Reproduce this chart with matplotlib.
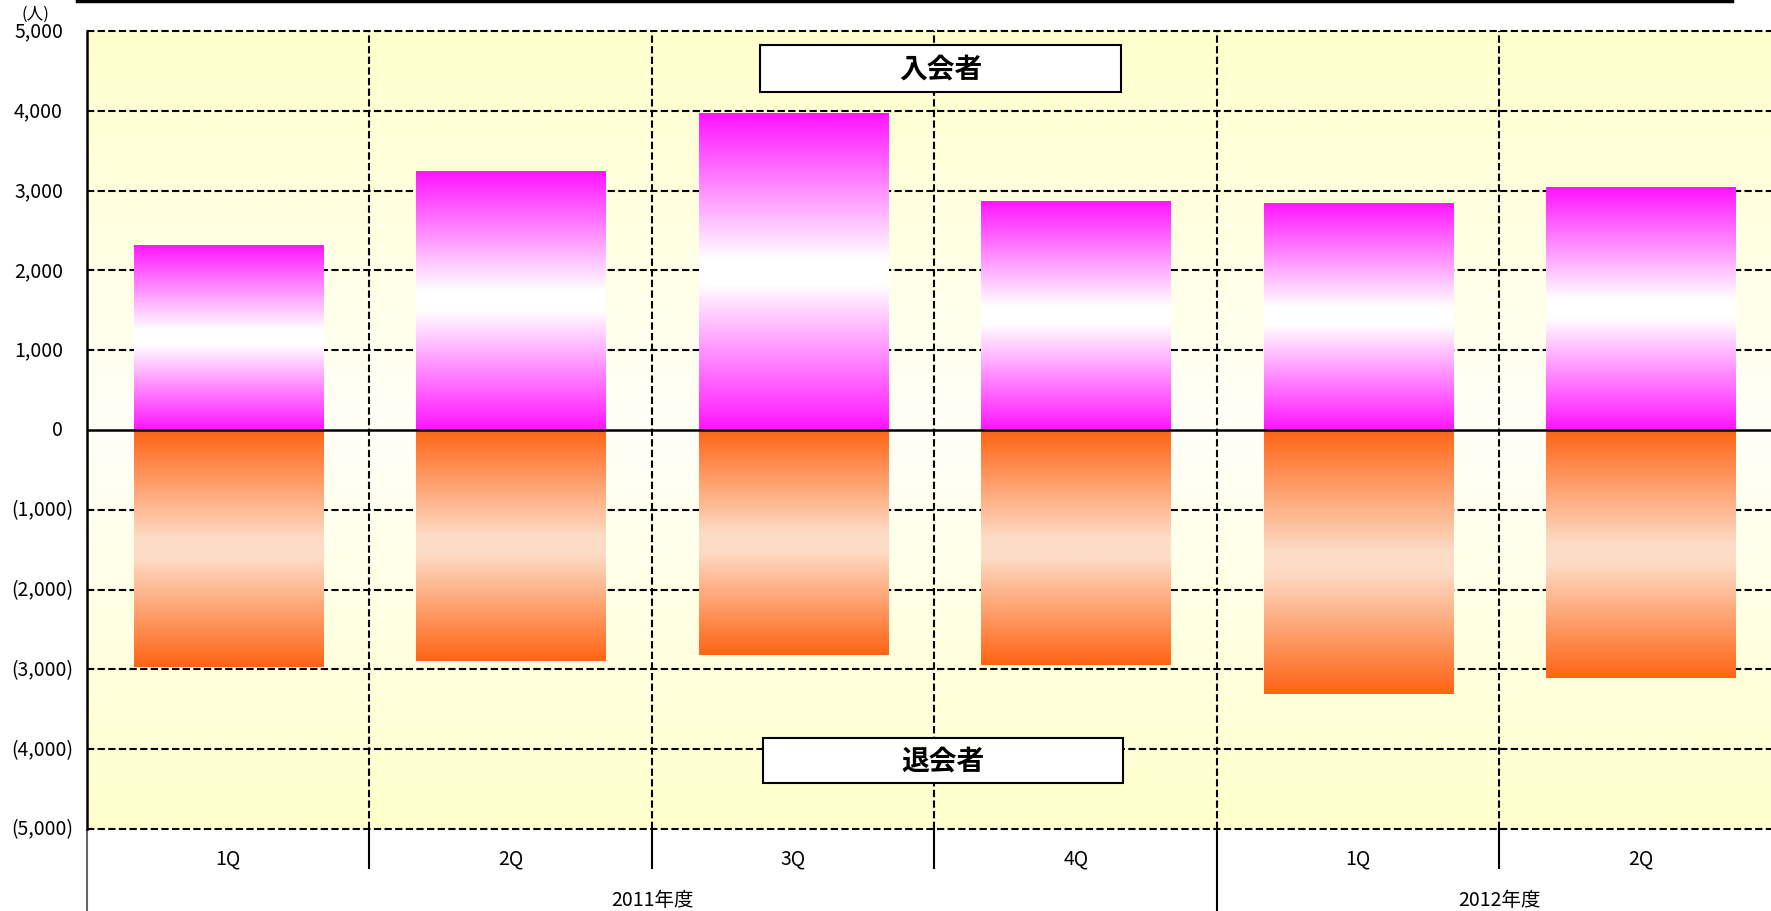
import numpy as np
import matplotlib
matplotlib.use("Agg")
import matplotlib.pyplot as plt
from matplotlib.colors import LinearSegmentedColormap
from matplotlib.patches import Rectangle
from matplotlib.lines import Line2D

plt.rcParams['font.family'] = ['Noto Sans CJK JP', 'DejaVu Sans']

# data
quarters = ['1Q', '2Q', '3Q', '4Q', '1Q', '2Q']
years = ['2011年度', '2012年度']
year_first = [0, 4]          # first quarter index of each fiscal year
year_last = [3, 5]
joiners = [2320, 3245, 3970, 2870, 2845, 3045]     # 入会者
leavers = [-2965, -2895, -2820, -2940, -3310, -3110]  # 退会者
yticks = [-5000, -4000, -3000, -2000, -1000, 0, 1000, 2000, 3000, 4000, 5000]

W, H = 1771, 912
fig = plt.figure(figsize=(W / 100, H / 100), dpi=100)
ax = fig.add_axes([87 / W, (H - 830) / H, 1695 / W, 798 / H])

x = np.arange(len(quarters))
xlo, xhi = -0.5, len(quarters) - 0.5
fs = 14

# background: yellow at the edges, almost white at zero
bg_cmap = LinearSegmentedColormap.from_list('bg', ['#fffff8', '#ffffcc'])
bg = np.abs(np.linspace(-1, 1, 256))[:, None]
ax.imshow(bg, extent=[xlo, xhi, yticks[0], yticks[-1]], cmap=bg_cmap,
          aspect='auto', origin='lower', zorder=0, interpolation='bilinear')

# grid
dash = (0, (3.5, 1.6))
for v in yticks:
    if v != 0:
        ax.axhline(v, color='black', lw=1.5, ls=dash, zorder=1, clip_on=False)
for b in x[:-1] + 0.5:
    ax.axvline(b, color='black', lw=1.5, ls=dash, zorder=1)

# gradient bars
pos_cmap = LinearSegmentedColormap.from_list(
    'pos', [(0, '#ff14ff'), (0.46, '#ffffff'), (0.54, '#ffffff'), (1, '#ff14ff')])
neg_cmap = LinearSegmentedColormap.from_list(
    'neg', [(0, '#ff6414'), (0.46, '#fddcc6'), (0.54, '#fddcc6'), (1, '#ff6414')])
grad = np.linspace(0, 1, 256)[:, None]
for vals, cm in ((joiners, pos_cmap), (leavers, neg_cmap)):
    bars = ax.bar(x, vals, width=0.67, color='none', edgecolor='none', zorder=3)
    for p in bars:
        x0, y0 = p.get_x(), p.get_y()
        w, h = p.get_width(), p.get_height()
        im = ax.imshow(grad, extent=[x0, x0 + w, min(y0, y0 + h), max(y0, y0 + h)],
                       cmap=cm, aspect='auto', origin='lower', zorder=3,
                       interpolation='bilinear')
        im.set_clip_path(p)

ax.axhline(0, color='black', lw=1.8, zorder=4)

ax.set_xlim(xlo, xhi)
ax.set_ylim(yticks[0], yticks[-1])
ax.set_xticks([])
ax.set_yticks([])
for s in ('top', 'right', 'bottom'):
    ax.spines[s].set_visible(False)
ax.spines['left'].set_linewidth(1.8)
ax.spines['left'].set_zorder(5)

# y labels, accounting style negatives
ytr = ax.get_yaxis_transform()
for v in yticks:
    if v < 0:
        ax.text(-(87 - 73) / 1695, v, f'({-v:,})', transform=ytr,
                ha='right', va='center', fontsize=fs)
    else:
        ax.text(-(87 - 63) / 1695, v, f'{v:,}', transform=ytr,
                ha='right', va='center', fontsize=fs)

# category axis (two levels)
xtr = ax.get_xaxis_transform()
for xi, q in zip(x, quarters):
    ax.text(xi, -(859 - 830) / 798, q, transform=xtr, ha='center', va='center',
            fontsize=fs)
for yl, a, b in zip(years, year_first, year_last):
    ax.text((a + b) / 2, -(901 - 830) / 798, yl, transform=xtr, ha='center',
            va='center', fontsize=fs)
short = [b for b in x[:-1] + 0.5 if b + 0.5 not in year_first]
ax.vlines(short, -(870 - 830) / 798, 0, transform=xtr, color='black', lw=1.5,
          clip_on=False)
ax.vlines([f - 0.5 for f in year_first if f > 0], -0.12, 0, transform=xtr,
          color='black', lw=1.5, clip_on=False)
ax.vlines([xlo], -0.12, 0, transform=xtr, color='#666666', lw=1.5, clip_on=False)

# series name boxes
for (bx0, by0, bx1, by1), name in (((0.397, 0.924, 0.610, 0.982), '入会者'),
                                   ((0.399, 0.058, 0.611, 0.114), '退会者')):
    ax.add_patch(Rectangle((bx0, by0), bx1 - bx0, by1 - by0, transform=ax.transAxes,
                           facecolor='white', edgecolor='black', lw=1.5, zorder=6))
    ax.text((bx0 + bx1) / 2, (by0 + by1) / 2, name, transform=ax.transAxes,
            ha='center', va='center', fontsize=20, fontweight='bold', zorder=7)

# unit and top rule
fig.text(35 / W, 1 - 14 / H, '(人)', ha='center', va='center', fontsize=12)
fig.add_artist(Line2D([77 / W, 1732 / W], [1 - 1.5 / H, 1 - 1.5 / H],
                      color='black', lw=2.5))

fig.savefig('out.png', dpi=100)
